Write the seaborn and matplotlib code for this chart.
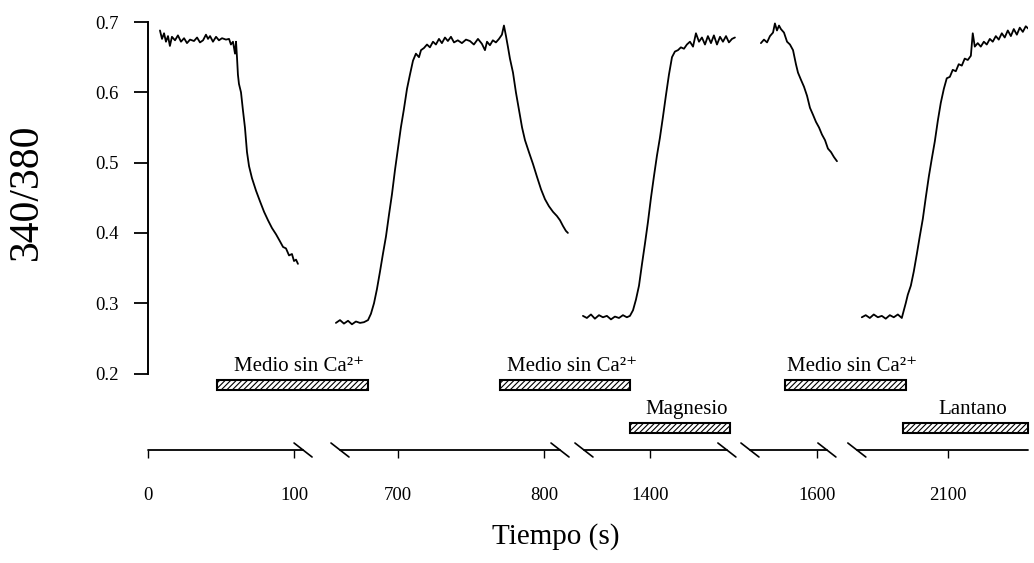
import numpy as np
import pandas as pd
import matplotlib
matplotlib.use("Agg")
import matplotlib.pyplot as plt
from matplotlib.patches import Rectangle
import seaborn as sns

# ---------------- data ----------------
# trace segments: time (s) and 340/380 ratio
t1 = [8.2, 9.6, 11, 12.3, 13.7, 15, 16.4, 18.5, 20.5, 22.6, 24.7, 26.7, 28.8, 31.5, 33.6, 35.6,
      37.7, 39.7, 41.1, 42.5, 44.5, 46.6, 48.6, 50.7, 53.4, 55.5, 56.8, 58.2, 59.6, 60.3, 61, 61.6,
      62.3, 63.7, 65, 66.4, 67.8, 69.2, 71.2, 74, 76.7, 79.5, 82.2, 84.9, 87.7, 90.4, 92.5, 94.5,
      96.6, 98.6, 100, 101.4, 102.7]
r1 = [0.688, 0.676, 0.684, 0.672, 0.680, 0.666, 0.679, 0.674, 0.681, 0.672, 0.677, 0.670, 0.675,
      0.673, 0.678, 0.671, 0.674, 0.682, 0.676, 0.680, 0.672, 0.679, 0.674, 0.677, 0.675, 0.676,
      0.668, 0.672, 0.655, 0.672, 0.648, 0.625, 0.612, 0.600, 0.575, 0.550, 0.515, 0.495, 0.478,
      0.460, 0.445, 0.430, 0.418, 0.407, 0.398, 0.388, 0.380, 0.378, 0.368, 0.370, 0.360, 0.362,
      0.356]

t2 = [657.5, 660.3, 663, 665.8, 668.5, 671.2, 674, 676.7, 679.5, 681.5, 683.6, 685.6, 687.7, 689.7,
      691.8, 693.8, 695.9, 698, 700, 702, 704, 706.2, 708.2, 710.3, 712.3, 714.4, 715.8, 717.8,
      719.9, 721.9, 724, 726, 728.1, 730.1, 732.2, 734.2, 736.3, 738.4, 741, 743.8, 746.6, 749.3,
      752, 754.8, 757.5, 759.6, 761, 763, 765, 767.1, 769.2, 771.2, 772.6, 774, 775.3, 776.7,
      778.8, 780.8, 782.9, 785, 787, 789.7, 792.5, 795.2, 798, 800.7, 803.4, 806.2, 808.9, 811,
      813, 815, 816.4]
r2 = [0.272, 0.276, 0.271, 0.275, 0.270, 0.274, 0.272, 0.273, 0.276, 0.285, 0.300, 0.320, 0.345,
      0.370, 0.395, 0.425, 0.455, 0.490, 0.520, 0.550, 0.575, 0.605, 0.625, 0.645, 0.655, 0.650,
      0.660, 0.663, 0.668, 0.664, 0.672, 0.668, 0.676, 0.670, 0.678, 0.673, 0.679, 0.671, 0.674,
      0.670, 0.675, 0.673, 0.668, 0.676, 0.669, 0.660, 0.672, 0.667, 0.674, 0.671, 0.676, 0.682,
      0.695, 0.680, 0.665, 0.648, 0.628, 0.600, 0.575, 0.550, 0.532, 0.515, 0.498, 0.480, 0.462,
      0.448, 0.438, 0.430, 0.424, 0.418, 0.410, 0.403, 0.400]

t3 = [1354.1, 1356.8, 1359.6, 1362.3, 1365.1, 1367.8, 1370.5, 1373.3, 1376, 1378.8, 1381.5, 1384.2,
      1386.3, 1388.4, 1390.4, 1392.5, 1394.5, 1396.6, 1398.6, 1400.7, 1402.7, 1404.8, 1406.8,
      1408.9, 1410.9, 1413, 1415.1, 1417.1, 1419.2, 1421.2, 1423.3, 1425.3, 1427.4, 1429.5,
      1431.5, 1433.6, 1435.6, 1437.7, 1439.7, 1441.8, 1443.8, 1445.9, 1448, 1450, 1452.1,
      1454.1, 1456.2, 1458.2]
r3 = [0.282, 0.279, 0.284, 0.278, 0.283, 0.280, 0.282, 0.277, 0.281, 0.279, 0.283, 0.280, 0.282,
      0.290, 0.305, 0.325, 0.355, 0.385, 0.415, 0.450, 0.480, 0.510, 0.535, 0.565, 0.595, 0.625,
      0.650, 0.658, 0.660, 0.664, 0.662, 0.668, 0.672, 0.665, 0.684, 0.672, 0.678, 0.668, 0.680,
      0.670, 0.681, 0.668, 0.679, 0.672, 0.680, 0.671, 0.676, 0.678]

t4 = [1561.6, 1563.7, 1565.8, 1567.8, 1569.9, 1571.2, 1572.6, 1574, 1575.3, 1577.4, 1579.5, 1581.5,
      1583.6, 1585.6, 1587, 1589, 1591.1, 1593.2, 1595.2, 1597.3, 1599.3, 1601.4, 1603.4, 1605.5,
      1607.5, 1609.6, 1611.6, 1613.7]
r4 = [0.670, 0.675, 0.671, 0.680, 0.685, 0.698, 0.688, 0.695, 0.690, 0.685, 0.672, 0.668, 0.660,
      0.640, 0.628, 0.618, 0.608, 0.595, 0.578, 0.568, 0.558, 0.550, 0.540, 0.532, 0.520, 0.515,
      0.508, 0.502]

t5 = [2041.1, 2043.8, 2046.6, 2049.3, 2052.1, 2054.8, 2057.5, 2060.3, 2063, 2065.8, 2068.5, 2069.9,
      2071.2, 2072.6, 2074.7, 2076.7, 2078.8, 2080.8, 2082.9, 2084.9, 2087, 2089, 2091.1, 2093.2,
      2095.2, 2097.3, 2099.3, 2101.4, 2103.4, 2105.5, 2107.5, 2109.6, 2111.6, 2113.7, 2115.8,
      2117.1, 2118.5, 2120.5, 2122.6, 2124.7, 2126.7, 2128.8, 2130.8, 2132.9, 2134.9, 2137, 2139,
      2141.1, 2143.2, 2145.2, 2147.3, 2149.3, 2151.4, 2153.4, 2155.5]
r5 = [0.280, 0.283, 0.279, 0.284, 0.280, 0.282, 0.278, 0.283, 0.280, 0.284, 0.279, 0.290, 0.300,
      0.312, 0.325, 0.345, 0.370, 0.395, 0.420, 0.450, 0.480, 0.505, 0.530, 0.560, 0.585, 0.605,
      0.620, 0.622, 0.632, 0.630, 0.640, 0.638, 0.648, 0.646, 0.652, 0.684, 0.665, 0.670, 0.665,
      0.672, 0.668, 0.676, 0.672, 0.680, 0.675, 0.684, 0.678, 0.688, 0.680, 0.690, 0.682, 0.692,
      0.686, 0.694, 0.690]

# broken time axis: window of each shown segment (s)
seg_start = [0, 660.3, 1354.8, 1554.1, 2037.7]
seg_end = [106.2, 811.0, 1452.7, 1606.8, 2154.8]

# time ticks
tick_times = [0, 100, 700, 800, 1400, 1600, 2100]
tick_labels = ["0", "100", "700", "800", "1400", "1600", "2100"]

y_ticks = [0.2, 0.3, 0.4, 0.5, 0.6, 0.7]
y_tick_labels = ["0.2", "0.3", "0.4", "0.5", "0.6", "0.7"]

# treatments (start / end time, s)
treat_names = ["Medio sin Ca²⁺", "Medio sin Ca²⁺", "Magnesio", "Medio sin Ca²⁺", "Lantano"]
treat_start = [47, 769.9, 1386.3, 1578.1, 2069.2]
treat_end = [679.5, 1386.3, 1454.8, 2071.2, 2154.8]
treat_row = [0, 0, 1, 0, 1]

# ---------------- layout helpers ----------------
gaps = [25.3, 16.4, 15.8, 20.5]          # display gap between segments
seg_d0 = [0.0]
for k in range(1, len(seg_start)):
    seg_d0.append(seg_d0[k - 1] + (seg_end[k - 1] - seg_start[k - 1]) + gaps[k - 1])


def to_disp(t):
    k = max(i for i in range(len(seg_start)) if seg_start[i] - 5 <= t)
    return seg_d0[k] + (t - seg_start[k])


# ---------------- figure ----------------
sns.set_theme(style="white")
plt.rcParams["font.family"] = ["Liberation Serif", "DejaVu Serif"]
plt.rcParams["hatch.linewidth"] = 0.8
plt.rcParams["text.color"] = "black"
plt.rcParams["xtick.color"] = "black"
plt.rcParams["ytick.color"] = "black"
plt.rcParams["axes.labelcolor"] = "black"

W, H = 1034, 563
fig = plt.figure(figsize=(W / 100, H / 100), dpi=100)
PX = 1.46  # pixels per display unit
ax = fig.add_axes([148 / W, 113 / H, 880 / W, 435 / H])

frames = []
for i, (tt, rr) in enumerate([(t1, r1), (t2, r2), (t3, r3), (t4, r4), (t5, r5)]):
    frames.append(pd.DataFrame({"disp": [seg_d0[i] + (v - seg_start[i]) for v in tt],
                                "ratio": rr, "seg": i}))
df = pd.concat(frames, ignore_index=True)
sns.lineplot(data=df, x="disp", y="ratio", units="seg", estimator=None, sort=False,
             color="black", lw=1.3, ax=ax, legend=False)

ax.set_xlim(0, 880 / PX)
ax.set_ylim(0.0912, 0.71)

# y axis
for s in ["top", "right", "bottom"]:
    ax.spines[s].set_visible(False)
ax.spines["left"].set_bounds(0.2, 0.7)
ax.spines["left"].set_color("black")
ax.spines["left"].set_linewidth(1.4)
ax.set_yticks(y_ticks)
ax.set_yticklabels(y_tick_labels, fontsize=13.5)
ax.tick_params(axis="y", direction="out", length=10, width=1.3, pad=11, color="black",
               labelcolor="black", left=True)

# x axis (broken)
ax.set_xticks([to_disp(t) for t in tick_times])
ax.set_xticklabels(tick_labels, fontsize=13.5)
ax.tick_params(axis="x", direction="out", length=6, width=1.0, pad=21, color="black",
               labelcolor="black", bottom=True)
ax.set_xlabel("")
ax.set_ylabel("")

xt = ax.get_xaxis_transform()
hx, hy = 9 / PX, 7 / 435
n = len(seg_start)
for k in range(n):
    d0 = seg_d0[k]
    d1 = seg_d0[k] + (seg_end[k] - seg_start[k])
    ax.plot([d0, d1], [0, 0], transform=xt, color="black", lw=1.3, clip_on=False)
    if k > 0:
        ax.plot([d0 - hx, d0 + hx], [hy, -hy], transform=xt, color="black", lw=1.2, clip_on=False)
    if k < n - 1:
        ax.plot([d1 - hx, d1 + hx], [hy, -hy], transform=xt, color="black", lw=1.2, clip_on=False)

# treatment bars
row_top = [0.1908, 0.1296]
row_h = 0.0143
for name, s, e, row in zip(treat_names, treat_start, treat_end, treat_row):
    d0, d1 = to_disp(s), to_disp(e)
    ax.add_patch(Rectangle((d0, row_top[row] - row_h), d1 - d0, row_h, facecolor="white",
                           edgecolor="black", lw=1.5, hatch="//////", clip_on=False))
    ax.annotate(name, xy=((d0 + d1) / 2, row_top[row]), xytext=(5, 3),
                textcoords="offset points", ha="center", va="bottom", fontsize=15,
                color="black")

fig.text(27 / W, 1 - 192 / H, "340/380", rotation=90, fontsize=30, ha="center", va="center",
         color="black")
fig.text(556 / W, 1 - 537 / H, "Tiempo (s)", fontsize=21, ha="center", va="center",
         color="black")

fig.savefig("out.png", dpi=100, facecolor="white")
